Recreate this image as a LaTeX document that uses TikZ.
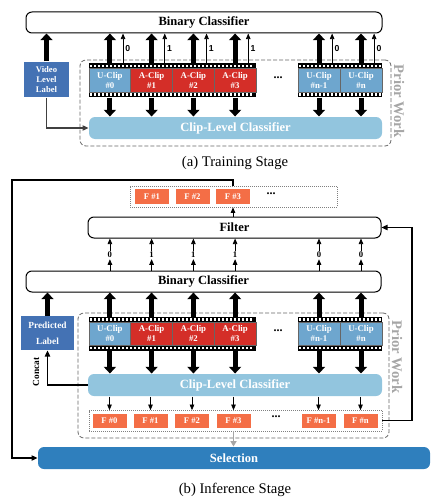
\documentclass[tikz,border=0pt]{standalone}
\usepackage{fontspec}
\setmainfont{Liberation Serif}
\newfontfamily\bitfont{Liberation Sans}
\usetikzlibrary{arrows.meta,calc}

\definecolor{uclipblue}{RGB}{110,166,206}
\definecolor{aclipred}{RGB}{212,46,40}
\definecolor{lblblue}{RGB}{68,114,180}
\definecolor{clcblue}{RGB}{146,197,222}
\definecolor{featorange}{RGB}{244,110,70}
\definecolor{selblue}{RGB}{47,127,189}

\tikzset{every picture/.style={line width=0.75pt}}
\tikzset{
  sized/.style 2 args={minimum width={#1*0.75pt}, minimum height={#2*0.75pt}},
  bigbox/.style={draw, rounded corners=4.5pt, inner sep=0pt, fill=white, font=\fontsize{9.4}{11}\selectfont\bfseries},
  bluebar/.style={rounded corners=4.5pt, inner sep=0pt, text=white, font=\fontsize{9.4}{11}\selectfont\bfseries},
  lblbox/.style={fill=lblblue, inner sep=0pt, text=white, align=center},
  clipbox/.style={draw=black!60, line width=0.4pt, sized={41.75}{23.5}, inner sep=0pt, text=white, align=center, font=\fontsize{6.6}{7.6}\selectfont\bfseries},
  uclip/.style={clipbox, fill=uclipblue},
  aclip/.style={clipbox, fill=aclipred},
  featbox/.style={fill=featorange, sized={34}{14.5}, inner sep=0pt, text=white, font=\fontsize{6.5}{7.5}\selectfont\bfseries},
  featrow/.style={draw=black!50, densely dotted, line width=0.5pt, fill=white, inner sep=0pt},
  priorbox/.style={draw=black!60, dash pattern=on 3pt off 1.5pt, rounded corners=4.5pt, line width=0.6pt, inner sep=0pt},
  priortext/.style={text=black!35, rotate=-90, font=\fontsize{11}{13}\selectfont\bfseries},
  filmstrip/.style={fill=black, inner sep=0pt},
  fatarrow/.style={line width=3.75pt, -{Triangle[width=9pt,length=5pt]}},
  thinarrow/.style={line width=0.6pt, -{Triangle[width=3.4pt,length=4.2pt]}},
  looparrow/.style={line width=0.9pt, -{Triangle[width=4pt,length=4.5pt]}},
  bitlabel/.style={font=\bitfont\fontsize{6.5}{7.5}\selectfont\bfseries, inner sep=1.5pt},
  bitlabelb/.style={fill=white, font=\fontsize{6.5}{7.5}\selectfont\bfseries, inner sep=0.6pt},
  dotsnode/.style={font=\fontsize{9}{10}\selectfont\bfseries, inner sep=0pt},
  caption/.style={font=\fontsize{11}{13}\selectfont},
}

\begin{document}
\begin{tikzpicture}[x=0.75pt,y=0.75pt,yscale=-1,xscale=1]
	\useasboundingbox (0,0) rectangle (436,503);

	%%%%%%%% (a) Training Stage
	%Shape: Rounded Rect [id:bcA]
	\node[bigbox, sized={356}{21}] (bcA) at (204,22.5) {Binary Classifier};
	%Shape: Rect [id:vlabel]
	\node[lblbox, sized={45}{35}, font=\fontsize{6.5}{7.6}\selectfont\bfseries] (vlabel) at (46.5,79.5) {Video\\Level\\Label};
	%Shape: Dashed Rect [id:priorA]
	\node[priorbox, sized={311}{86}] (priorA) at (235.5,103) {};
	% Text Node
	\node[priortext] (priorAtext) at (399,101) {Prior Work};

	%Shape: Film strips
	\node[filmstrip, sized={167}{33.5}] (filmA1) at (172.5,80.25) {};
	\node[filmstrip, sized={84}{33.5}] (filmA2) at (340,80.25) {};
	\foreach \xa/\n/\yt in {89/40/63.5, 298/20/63.5} {
		\foreach \i in {0,...,\n} {
			\fill[white] (\xa+1+4*\i,\yt+1.4) rectangle ++(2.4,2.2);
			\fill[white] (\xa+1+4*\i,\yt+29.9) rectangle ++(2.4,2.2);
		}
	}
	%Shape: Clips
	\node[uclip] (ca0) at (109.9,80.25) {U-Clip\\\#0};
	\node[aclip] (ca1) at (151.6,80.25) {A-Clip\\\#1};
	\node[aclip] (ca2) at (193.4,80.25) {A-Clip\\\#2};
	\node[aclip] (ca3) at (235.1,80.25) {A-Clip\\\#3};
	\node[uclip] (ca4) at (319,80.25) {U-Clip\\\#n-1};
	\node[uclip] (ca5) at (361,80.25) {U-Clip\\\#n};
	% Text Node
	\node[dotsnode] (dotsA) at (278,78) {...};

	%Shape: Rounded Rect [id:clcA]
	\node[bluebar, fill=clcblue, sized={293}{22}] (clcA) at (235.5,128) {Clip-Level Classifier};

	%Straight Lines
	\draw[fatarrow] (vlabel.north) -- (vlabel |- bcA.south);
	\foreach \c in {ca0,ca1,ca2,ca3,ca4,ca5} {
		\draw[fatarrow] (\c |- filmA1.north) -- (\c |- bcA.south);
		\draw[fatarrow] (\c |- filmA1.south) -- (\c |- clcA.north);
	}
	\foreach \c/\b in {ca0/0,ca1/1,ca2/1,ca3/1,ca4/0,ca5/0}
		\draw[thinarrow] ($(\c.east |- filmA1.north)+(-8,0)$) -- ($(\c.east |- bcA.south)+(-8,0)$) node[bitlabel, pos=0.5, right] {\b};
	\draw[looparrow, black!75] (vlabel.south) |- (clcA.west);

	% Text Node
	\node[caption] (capA) at (235,163) {(a) Training Stage};

	%%%%%%%% (b) Inference Stage
	%Shape: Dotted Rect [id:fTop]
	\node[featrow, sized={207}{21}] (fTop) at (233.5,196.5) {};
	\node[featbox] (ft1) at (152,196.5) {F \#1};
	\node[featbox] (ft2) at (192.5,196.5) {F \#2};
	\node[featbox] (ft3) at (233,196.5) {F \#3};
	\node[dotsnode] (dotsF) at (271,194) {...};

	%Shape: Rounded Rect [id:filter]
	\node[bigbox, sized={293}{21}] (filter) at (234.5,227.5) {Filter};
	%Shape: Rounded Rect [id:bcB]
	\node[bigbox, sized={355}{21}] (bcB) at (203.5,281.5) {Binary Classifier};
	%Shape: Rect [id:plabel]
	\node[lblbox, sized={53}{34}, font=\fontsize{7}{12}\selectfont\bfseries] (plabel) at (47.5,333) {Predicted\\Label};
	%Shape: Dashed Rect [id:priorB]
	\node[priorbox, sized={311}{125}] (priorB) at (233.5,375.5) {};
	% Text Node
	\node[priortext] (priorBtext) at (397,357) {Prior Work};

	%Shape: Film strips
	\node[filmstrip, sized={167}{33.5}] (filmB1) at (172.5,333.75) {};
	\node[filmstrip, sized={84}{33.5}] (filmB2) at (340,333.75) {};
	\foreach \xa/\n/\yt in {89/40/317, 298/20/317} {
		\foreach \i in {0,...,\n} {
			\fill[white] (\xa+1+4*\i,\yt+1.4) rectangle ++(2.4,2.2);
			\fill[white] (\xa+1+4*\i,\yt+29.9) rectangle ++(2.4,2.2);
		}
	}
	%Shape: Clips
	\node[uclip] (cb0) at (109.9,333.75) {U-Clip\\\#0};
	\node[aclip] (cb1) at (151.6,333.75) {A-Clip\\\#1};
	\node[aclip] (cb2) at (193.4,333.75) {A-Clip\\\#2};
	\node[aclip] (cb3) at (235.1,333.75) {A-Clip\\\#3};
	\node[uclip] (cb4) at (319,333.75) {U-Clip\\\#n-1};
	\node[uclip] (cb5) at (361,333.75) {U-Clip\\\#n};
	% Text Node
	\node[dotsnode] (dotsB) at (278,331) {...};

	%Shape: Rounded Rect [id:clcB]
	\node[bluebar, fill=clcblue, sized={294}{22}] (clcB) at (235,385) {Clip-Level Classifier};

	%Shape: Dotted Rect [id:fBot]
	\node[featrow, sized={293}{20.5}] (fBot) at (235.5,420.75) {};
	\node[featbox] (fb0) at (109.5,421) {F \#0};
	\node[featbox] (fb1) at (150.5,421) {F \#1};
	\node[featbox] (fb2) at (192,421) {F \#2};
	\node[featbox] (fb3) at (233.5,421) {F \#3};
	\node[featbox] (fb4) at (318.5,421) {F \#n-1};
	\node[featbox] (fb5) at (360.5,421) {F \#n};
	\node[dotsnode] (dotsG) at (276,417) {...};

	%Shape: Rounded Rect [id:sel]
	\node[bluebar, fill=selblue, sized={392}{22}] (sel) at (234,458) {Selection};

	%Straight Lines
	\draw[fatarrow] (plabel.north) -- (plabel |- bcB.south);
	\foreach \c in {cb0,cb1,cb2,cb3,cb4,cb5} {
		\draw[fatarrow] (\c |- filmB1.north) -- (\c |- bcB.south);
		\draw[fatarrow] (\c |- filmB1.south) -- (\c |- clcB.north);
	}
	\coordinate (bitrow) at (0,255);
	\foreach \c/\b in {cb0/0,cb1/1,cb2/1,cb3/1,cb4/0,cb5/0} {
		\node[bitlabelb] (bit\c) at (\c |- bitrow) {\b};
		\draw[thinarrow] (\c |- bcB.north) -- (bit\c);
		\draw[thinarrow] (bit\c) -- (\c |- filter.south);
	}
	\foreach \f in {fb0,fb1,fb2,fb3,fb4,fb5}
		\draw[thinarrow] (\f |- clcB.south) -- (\f |- fBot.north);
	\draw[thinarrow] (ft3 |- filter.north) -- (ft3 |- fTop.south);
	\draw[looparrow] (clcB.west) -| (plabel.south);
	% Text Node
	\node[rotate=90, font=\fontsize{7}{8}\selectfont\bfseries] (concat) at (36,372) {Concat};
	\draw[line width=1.1pt, black!35, -{Triangle[width=4.5pt,length=4pt]}] (fb3 |- fBot.south) -- (fb3 |- sel.north);

	%Loop Lines
	\coordinate (leftrail) at (12,180);
	\coordinate (rightrail) at (412,0);
	\draw[looparrow] (ft3 |- fTop.north) |- (leftrail) |- (sel.west);
	\draw[looparrow] (fBot.east) -| (rightrail |- filter.east) -- (filter.east);

	% Text Node
	\node[caption] (capB) at (235,490) {(b) Inference Stage};

\end{tikzpicture}
\end{document}
